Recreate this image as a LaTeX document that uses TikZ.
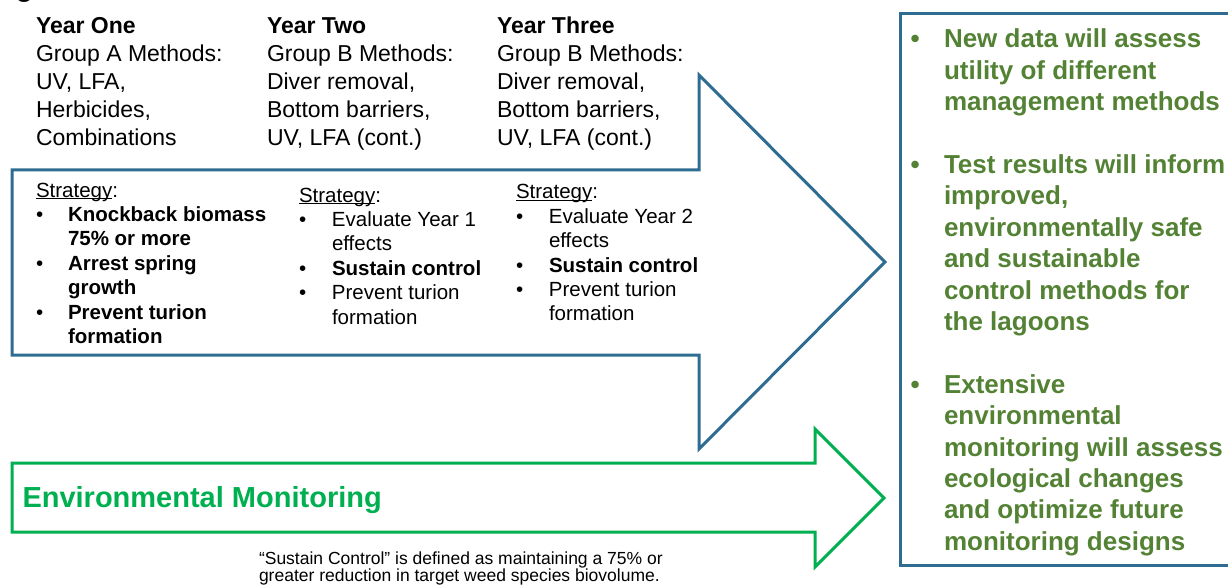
\documentclass[tikz,border=0pt]{standalone}
\usepackage{fontspec}
\setmainfont{Liberation Sans}

\definecolor{flowblue}{RGB}{46,108,145}
\definecolor{monigreen}{RGB}{0,176,80}
\definecolor{outgreen}{RGB}{84,130,53}

% font size with explicit baseline skip
\newcommand{\fsz}[2]{\fontsize{#1}{#2}\selectfont}
% left-aligned stack of lines, baseline on the first line
\newcommand{\stack}[1]{\begin{tabular}[t]{@{}l@{}}#1\end{tabular}}
% underline sitting just below the baseline
\newcommand{\stratul}[1]{\setbox0\hbox{#1}\rlap{\rule[-2.2pt]{\wd0}{1.2pt}}\box0}
% bullet cell of a given width
\newcommand{\bul}[1]{\makebox[#1][l]{\textbullet}}

\tikzset{
  txt/.style={inner sep=0pt, outer sep=0pt, anchor=base west},
  yeartxt/.style={txt, font=\fsz{23}{28.1}},
  strattxt/.style={txt, font=\fsz{20.5}{24.4}},
  bigarrow/.style={line width=3pt, line join=miter},
}

\begin{document}
\begin{tikzpicture}[x=1pt, y=-1pt]
\useasboundingbox (0,0) rectangle (1228,588);

% cut-off heading letter at the top edge
\node[txt, font=\bfseries\fsz{28}{30}] (head) at (16,-3) {g};

% main treatment arrow
\draw[bigarrow, flowblue] (12,170) -- (699,170) -- (699,75) -- (885,262)
  -- (699,449) -- (699,355) -- (12,355) -- cycle;

% monitoring arrow
\draw[bigarrow, monigreen] (12,463) -- (815,463) -- (815,429) -- (884,498)
  -- (815,567) -- (815,532) -- (12,532) -- cycle;

% outcomes box
\draw[line width=3pt, flowblue] (900,14) rectangle (1240,565);

% yearly methods
\node[yeartxt] (y1) at (36,33.5) {\stack{\textbf{Year One}\\Group A Methods:\\UV, LFA,\\Herbicides,\\Combinations}};
\node[yeartxt] (y2) at (267,33.5) {\stack{\textbf{Year Two}\\Group B Methods:\\Diver removal,\\Bottom barriers,\\UV, LFA (cont.)}};
\node[yeartxt] (y3) at (497,33.5) {\stack{\textbf{Year Three}\\Group B Methods:\\Diver removal,\\Bottom barriers,\\UV, LFA (cont.)}};

% yearly strategies
\node[strattxt] (s1) at (36,197) {\begin{tabular}[t]{@{}l@{}l@{}}
  \multicolumn{2}{@{}l@{}}{\stratul{Strategy}:}\\
  \bul{32pt} & \textbf{Knockback biomass}\\
   & \textbf{75\% or more}\\
  \bul{32pt} & \textbf{Arrest spring}\\
   & \textbf{growth}\\
  \bul{32pt} & \textbf{Prevent turion}\\
   & \textbf{formation}
\end{tabular}};
\node[strattxt] (s2) at (299,202) {\begin{tabular}[t]{@{}l@{}l@{}}
  \multicolumn{2}{@{}l@{}}{\stratul{Strategy}:}\\
  \bul{33pt} & Evaluate Year 1\\
   & effects\\
  \bul{33pt} & \textbf{Sustain control}\\
  \bul{33pt} & Prevent turion\\
   & formation
\end{tabular}};
\node[strattxt] (s3) at (516,199) {\begin{tabular}[t]{@{}l@{}l@{}}
  \multicolumn{2}{@{}l@{}}{\stratul{Strategy}:}\\
  \bul{33pt} & Evaluate Year 2\\
   & effects\\
  \bul{33pt} & \textbf{Sustain control}\\
  \bul{33pt} & Prevent turion\\
   & formation
\end{tabular}};

% monitoring label
\node[txt, font=\bfseries\fsz{29}{32}, text=monigreen] (env) at (22.5,507.7) {Environmental Monitoring};

% footnote
\node[txt, font=\fsz{17.5}{21}] (note) at (259,564) {\stack{``Sustain Control'' is defined as maintaining a 75\% or\\[-4pt]
greater reduction in target weed species biovolume.}};

% outcomes
\node[txt, font=\bfseries\fsz{26}{31.4}, text=outgreen] (out) at (910.5,48) {\begin{tabular}[t]{@{}l@{}l@{}}
  \bul{33.5pt} & New data will assess\\
   & utility of different\\
   & management methods\\
   & \\
  \bul{33.5pt} & Test results will inform\\
   & improved,\\
   & environmentally safe\\
   & and sustainable\\
   & control methods for\\
   & the lagoons\\
   & \\
  \bul{33.5pt} & Extensive\\
   & environmental\\
   & monitoring will assess\\
   & ecological changes\\
   & and optimize future\\
   & monitoring designs
\end{tabular}};
\end{tikzpicture}
\end{document}
